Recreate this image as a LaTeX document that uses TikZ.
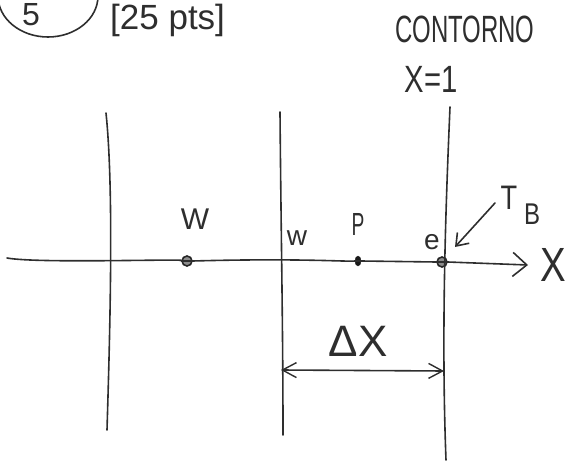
\documentclass[tikz,border=0pt]{standalone}
\usepackage{fontspec}
\setmainfont{Liberation Sans}
\usetikzlibrary{arrows.meta,shapes.geometric}
\begin{document}
\begin{tikzpicture}[x=1pt,y=-1pt,
  pen/.style={line width=1.6pt, draw=black!82, line cap=round, line join=round},
  hand/.style={text=black!82, inner sep=0pt, font=#1},
  hand/.default={\fontsize{30}{30}\selectfont},
  openpt/.style={circle, draw=black!85, line width=1.6pt, fill=black!45, minimum size=10pt, inner sep=0pt},
  fillpt/.style={ellipse, draw=black!90, fill=black!90, minimum width=6pt, minimum height=10pt, inner sep=0pt},
  bigbarb/.style={-{Straight Barb[length=14pt,width=24pt,line width=1.6pt]}},
  barb/.style={-{Straight Barb[length=11pt,width=16pt,line width=1.6pt]}},
  dimarrow/.style={{Straight Barb[length=14pt,width=15pt,line width=1.4pt]}-{Straight Barb[length=14pt,width=15pt,line width=1.4pt]}}
]
\useasboundingbox (0,0) rectangle (568,463);
\begin{scope}
\clip (0,0) rectangle (568,463);
% circled problem number
\draw[pen] (48,-4) ellipse [x radius=50, y radius=41];
\end{scope}
\node[hand={\fontsize{32}{32}\selectfont}, anchor=base west] (num) at (22,25) {5};
\node[hand={\fontsize{35}{35}\selectfont}, anchor=base west] (pts) at (110,30) {[25 pts]};

% boundary label
\node[hand={\fontsize{38}{38}\selectfont}, xscale=0.63] (cont) at (465,29) {CONTORNO};
\node[hand={\fontsize{38}{38}\selectfont}, xscale=0.77] (x1) at (431,79) {X=1};

% grid points on the axis
\node[openpt] (Wp) at (187,261) {};
\node[fillpt] (Pp) at (358,261) {};
\node[openpt] (ep) at (442,262) {};

% face lines
\coordinate (f1t) at (106,113);
\coordinate (f1b) at (107,430);
\coordinate (f2t) at (280,112);
\coordinate (f2b) at (283,435);
\coordinate (f3t) at (450,107);
\coordinate (f3b) at (446,460);
\draw[pen] (f1t) .. controls (114,190) and (110,330) .. (f1b);
\draw[pen] (f2t) .. controls (281,230) and (283,330) .. (f2b);
\draw[pen] (f3t) .. controls (446,200) and (441,330) .. (f3b);

% x axis
\coordinate (ax0) at (7,258);
\coordinate (ax1) at (528,265);
\draw[pen, bigbarb] (ax0) .. controls (40,264) and (200,258) .. (Wp.west) -- (Wp.east) .. controls (300,258) and (350,262) .. (Pp.west) -- (Pp.east) -- (ep.west) -- (ep.east) -- (ax1);
\node[hand={\fontsize{48}{48}\selectfont}, xscale=0.8] (X) at (553,265) {X};

% labels
\node[hand] (W) at (195,219) {W};
\node[hand={\fontsize{28}{28}\selectfont}] (w) at (297,238) {w};
\node[hand={\fontsize{32}{32}\selectfont}, xscale=0.6] (P) at (358,224) {P};
\node[hand={\fontsize{28}{28}\selectfont}] (e) at (432,242) {e};

% boundary value arrow
\node[hand={\fontsize{34}{34}\selectfont}, xscale=0.8] (TB) at (509,198) {T};
\node[hand={\fontsize{30}{30}\selectfont}, xscale=0.8] (B) at (532,214) {B};
\coordinate (tbs) at (495,203);
\coordinate (tbe) at (455,247);
\draw[pen, barb] (tbs) -- (tbe);

% dimension
\coordinate (d0) at (281,370);
\coordinate (d1) at (444,371);
\draw[pen, dimarrow] (d0) -- (d1);
\node[hand={\fontsize{44}{44}\selectfont}] (DX) at (358,341) {ΔX};
\end{tikzpicture}
\end{document}
